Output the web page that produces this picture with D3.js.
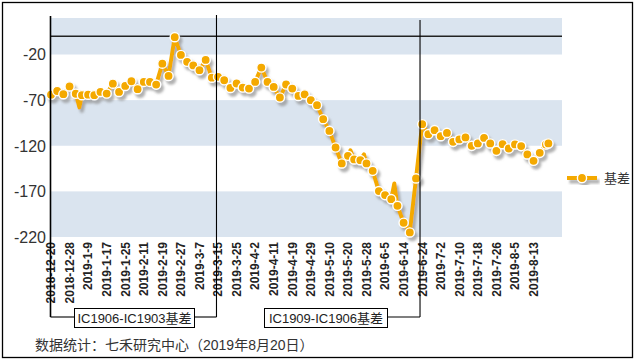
<!DOCTYPE html>
<html>
<head>
<meta charset="utf-8">
<script src="https://cdn.jsdelivr.net/npm/d3@7"></script>
<style>
  body { margin: 0; background: #fff; }
  #graph { width: 639px; height: 362px; }
  text { font-family: Arial, "Liberation Sans", "Noto Sans CJK SC", sans-serif; }
</style>
</head>
<body>
<div id="graph"></div>
<script>
// x labels: one every 3 points (every 6 trading days)
const tickLabels = ["2018-12-20", "2018-12-28", "2019-1-9", "2019-1-17", "2019-1-25", "2019-2-11",
    "2019-2-19", "2019-2-27", "2019-3-7", "2019-3-15", "2019-3-25", "2019-4-2", "2019-4-11",
    "2019-4-19", "2019-4-29", "2019-5-10", "2019-5-20", "2019-5-28", "2019-6-5", "2019-6-14",
    "2019-6-24", "2019-7-2", "2019-7-10", "2019-7-18", "2019-7-26", "2019-8-5", "2019-8-13"];
const yTicks = [-220, -170, -120, -70, -20];

// basis values, one per point (point i = every other trading day)
const basis = [-64, -60, -63.5, -55, -63, -64.6, -64, -64.6, -61, -62.8,
    -52, -61, -54.4, -49.3, -58, -50, -50, -53, -30, -43.5,
    -1, -20.5, -28, -32, -37.2, -26, -45.4, -44.5, -48.2, -56.6,
    -51.8, -56.2, -57.3, -50, -34.3, -50, -55.5, -67.1, -52.9, -57.3,
    -65.4, -63.8, -70, -75.5, -90.9, -103.7, -121.9, -139.4, -131, -135,
    -135.8, -139.4, -147.5, -169.7, -174.1, -178.5, -185.8, -204.4, -215, -155.8,
    -96.4, -107.3, -102.9, -109.5, -105.9, -115.7, -113.1, -110.9, -120.1, -117.5,
    -111.4, -117.5, -125.6, -118.3, -123, -118.6, -120.4, -129.5, -136.5, -127.8,
    -118.6];
const lastAt = [80.4];
const lastVal = [-117.5];
// line vertices that carry no marker
const spikeAt = [4.6, 48.4, 50.6, 55.5];
const spikeVal = [-78, -125, -129.5, -161.3];

const contracts = ["IC1906-IC1903基差", "IC1909-IC1906基差"];
const rollAt = [26.75, 59.65];
const seriesName = "基差";
const footer = "数据统计：七禾研究中心（2019年8月20日）";

const ORANGE = "#F4A900";
const BAND = "#DAE4EF";
const W = 639, H = 362;

function container() {
    return document.querySelector("#graph");
}

function main() {
    const svg = d3.select(container()).append("svg")
        .attr("width", W)
        .attr("height", H);

    const defs = svg.append("defs");
    const f = defs.append("filter").attr("id", "shadow")
        .attr("x", "-10%").attr("y", "-10%").attr("width", "120%").attr("height", "130%");
    f.append("feDropShadow")
        .attr("dx", 2.5).attr("dy", 3.5).attr("stdDeviation", 0.9)
        .attr("flood-color", "#909090").attr("flood-opacity", 0.7);

    const x = d3.scaleLinear().domain([0, 82.6]).range([51, 562]);
    const y = d3.scaleLinear().domain([-220, 20]).range([237, 18]);

    // outer frame
    svg.append("rect")
        .attr("x", 2.5).attr("y", 2.5)
        .attr("width", 630).attr("height", 355)
        .attr("fill", "#fff")
        .attr("stroke", "#000").attr("stroke-width", 1.3);

    // alternating bands, starting at the bottom tick
    const bandEdges = yTicks.concat([20]);
    const bands = d3.range(0, bandEdges.length - 1, 2).map(i => [bandEdges[i], bandEdges[i + 1]]);
    svg.append("g").selectAll("rect")
        .data(bands)
        .join("rect")
        .attr("x", x(0))
        .attr("width", x.range()[1] - x(0))
        .attr("y", d => y(d[1]))
        .attr("height", d => y(d[0]) - y(d[1]))
        .attr("fill", BAND);

    // y tick labels
    svg.append("g").selectAll("text")
        .data(yTicks)
        .join("text")
        .attr("x", 46)
        .attr("y", d => y(d))
        .attr("dy", "0.36em")
        .attr("text-anchor", "end")
        .attr("font-size", 16)
        .attr("fill", "#333")
        .text(d => d);

    // zero line
    svg.append("line")
        .attr("x1", 50).attr("x2", x.range()[1])
        .attr("y1", y(0)).attr("y2", y(0))
        .attr("stroke", "#222").attr("stroke-width", 1.4);

    // x labels
    svg.append("g").selectAll("text")
        .data(tickLabels)
        .join("text")
        .attr("transform", (d, i) => `translate(${x(i * 3)},${242}) rotate(-90)`)
        .attr("dy", "0.36em")
        .attr("text-anchor", "end")
        .attr("font-size", 12)
        .attr("font-weight", "bold")
        .attr("fill", "#222")
        .text(d => d);

    // series
    const marked = basis.map((v, i) => ({ i, v }))
        .concat(lastAt.map((a, k) => ({ i: a, v: lastVal[k] })));
    const linePts = marked.concat(spikeAt.map((a, k) => ({ i: a, v: spikeVal[k] })))
        .sort((a, b) => a.i - b.i);

    const series = svg.append("g").attr("filter", "url(#shadow)");
    series.append("path")
        .datum(linePts)
        .attr("fill", "none")
        .attr("stroke", ORANGE)
        .attr("stroke-width", 4)
        .attr("stroke-linejoin", "round")
        .attr("d", d3.line().x(d => x(d.i)).y(d => y(d.v)));
    series.selectAll("circle")
        .data(marked)
        .join("circle")
        .attr("cx", d => x(d.i))
        .attr("cy", d => y(d.v))
        .attr("r", 4.6)
        .attr("fill", ORANGE)
        .attr("stroke", "#fff")
        .attr("stroke-width", 1.4);

    // y axis line (extends down to the bracket)
    const bracketY = 317;
    svg.append("line")
        .attr("x1", 50.5).attr("x2", 50.5)
        .attr("y1", 16).attr("y2", bracketY)
        .attr("stroke", "#000").attr("stroke-width", 1.6);

    // contract roll lines and boxes
    const boxes = [{ x0: 74, x1: 194 }, { x0: 264, x1: 387 }];
    const rollTop = [15, 20];
    rollAt.forEach((a, k) => {
        svg.append("line")
            .attr("x1", x(a)).attr("x2", x(a))
            .attr("y1", rollTop[k]).attr("y2", bracketY)
            .attr("stroke", "#000").attr("stroke-width", 1.1);
        svg.append("line")
            .attr("x1", boxes[k].x1).attr("x2", x(a))
            .attr("y1", bracketY).attr("y2", bracketY)
            .attr("stroke", "#000").attr("stroke-width", 1.1);
    });
    svg.append("line")
        .attr("x1", 50.5).attr("x2", boxes[0].x0)
        .attr("y1", bracketY).attr("y2", bracketY)
        .attr("stroke", "#000").attr("stroke-width", 1.1);

    boxes.forEach((b, k) => {
        svg.append("rect")
            .attr("x", b.x0 + 0.5).attr("y", 308.5)
            .attr("width", b.x1 - b.x0).attr("height", 19)
            .attr("fill", "#fff")
            .attr("stroke", "#000").attr("stroke-width", 1);
        svg.append("text")
            .attr("x", (b.x0 + b.x1) / 2 + 0.5)
            .attr("y", 318)
            .attr("dy", "0.36em")
            .attr("text-anchor", "middle")
            .attr("font-size", 13)
            .attr("fill", "#222")
            .text(contracts[k]);
    });

    // legend
    const lg = svg.append("g").attr("filter", "url(#shadow)");
    lg.append("line")
        .attr("x1", 567).attr("x2", 597)
        .attr("y1", 178).attr("y2", 178)
        .attr("stroke", ORANGE).attr("stroke-width", 4);
    lg.append("circle")
        .attr("cx", 582).attr("cy", 178).attr("r", 4.6)
        .attr("fill", ORANGE).attr("stroke", "#fff").attr("stroke-width", 1.4);
    svg.append("text")
        .attr("x", 604).attr("y", 178)
        .attr("dy", "0.36em")
        .attr("font-size", 13)
        .attr("fill", "#333")
        .text(seriesName);

    // footer
    svg.append("text")
        .attr("x", 35).attr("y", 345)
        .attr("dy", "0.36em")
        .attr("font-size", 14)
        .attr("fill", "#333")
        .text(footer);
}

main();
</script>
</body>
</html>
